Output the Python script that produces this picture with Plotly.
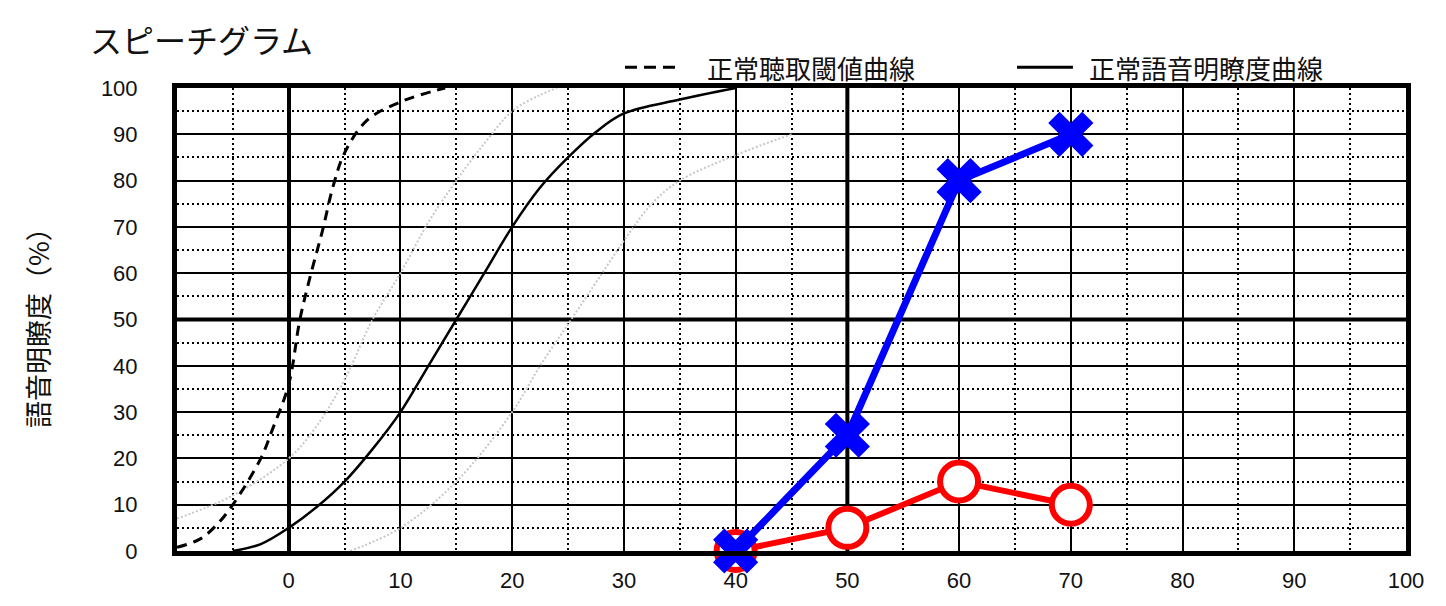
import plotly.graph_objects as go

# normal hearing threshold curve (dashed)
thr_x = [-10, -8, -6.5, -5, -2.5, -1.5, 0, 1, 2, 3, 4, 5, 7, 10, 14]
thr_y = [0.8, 2.5, 5.5, 10, 20, 26, 36, 50, 60, 69, 79, 86, 93, 97, 100]

# normal speech discrimination curve (solid)
norm_x = [-5, -2.5, 0, 2.5, 5, 7.5, 10, 12.5, 15, 17.5, 20, 22.5, 25, 27.5, 30, 35, 40]
norm_y = [0, 1.5, 5, 9.5, 15, 22, 30, 40, 50, 60, 70, 78.5, 85, 90.5, 94.5, 97.5, 100]

# range around the normal curve (light grey dotted)
low_x = [-10, -5, 0, 2.5, 5, 7.5, 10, 12.5, 15, 17.5, 20, 22.5, 24]
low_y = [7, 12, 20, 27, 37, 50, 60, 71, 80, 88, 95, 98.5, 100]
high_x = [5.5, 10, 15, 20, 22.5, 25, 27.5, 30, 32.5, 35, 40, 45]
high_y = [0, 5, 15, 30, 40, 49, 58, 67, 75, 80, 85.5, 90]

# measured results
levels = [40, 50, 60, 70]
right_ear = [0, 5, 15, 10]
left_ear = [0, 25, 80, 90]

x_ticks = list(range(0, 101, 10))
y_ticks = list(range(0, 101, 10))

legend_labels = ["正常聴取閾値曲線", "正常語音明瞭度曲線"]

JP = "Noto Sans CJK JP"
NUM = "Liberation Sans, Arial"

fig = go.Figure()

for gx, gy in [(low_x, low_y), (high_x, high_y)]:
    fig.add_trace(go.Scatter(x=gx, y=gy, mode="lines", line_shape="spline",
                             line=dict(color="#c8c8c8", width=2, dash="2px,2px"),
                             showlegend=False, hoverinfo="skip"))

fig.add_trace(go.Scatter(x=thr_x, y=thr_y, mode="lines", line_shape="spline",
                         line=dict(color="black", width=3, dash="10px,7px"),
                         name=legend_labels[0], showlegend=False))
fig.add_trace(go.Scatter(x=norm_x, y=norm_y, mode="lines", line_shape="spline",
                         line=dict(color="black", width=2.5),
                         name=legend_labels[1], showlegend=False))

fig.add_trace(go.Scatter(x=levels, y=right_ear, mode="lines+markers",
                         line=dict(color="#ff0000", width=6),
                         marker=dict(symbol="circle", size=38, color="white",
                                     line=dict(width=6, color="#ff0000")),
                         cliponaxis=False, showlegend=False))
fig.add_trace(go.Scatter(x=levels, y=left_ear, mode="lines+markers",
                         line=dict(color="#0000ff", width=7),
                         marker=dict(symbol="x", size=40, color="#0000ff"),
                         cliponaxis=False, showlegend=False))

# thick reference lines
fig.add_shape(type="line", x0=50, x1=50, y0=0, y1=100, xref="x", yref="y",
              line=dict(color="black", width=4), layer="between")
fig.add_shape(type="line", x0=-10, x1=100, y0=50, y1=50, xref="x", yref="y",
              line=dict(color="black", width=4), layer="between")

# legend drawn above the plot
leg_y = 1.045
fig.add_shape(type="line", xref="paper", yref="paper", x0=0.3645, x1=0.4093,
              y0=leg_y, y1=leg_y, line=dict(color="black", width=3, dash="12px,7px"))
fig.add_shape(type="line", xref="paper", yref="paper", x0=0.6835, x1=0.7290,
              y0=leg_y, y1=leg_y, line=dict(color="black", width=3))
for lx, txt in [(0.4296, legend_labels[0]), (0.7404, legend_labels[1])]:
    fig.add_annotation(text=txt, xref="paper", yref="paper", x=lx, y=leg_y,
                       xanchor="left", yanchor="middle", showarrow=False,
                       font=dict(family=JP, size=26, color="#111"))

# y axis title
fig.add_annotation(text="語音明瞭度（%）", xref="paper", yref="paper",
                   x=-0.113, y=0.497, xanchor="center", yanchor="middle",
                   textangle=-90, showarrow=False,
                   font=dict(family=JP, size=27, color="#111"))

fig.update_xaxes(range=[-10, 100], tickvals=x_ticks, ticks="",
                 showgrid=True, gridcolor="black", gridwidth=2,
                 minor=dict(tickvals=list(range(-5, 100, 10)), showgrid=True,
                            gridcolor="black", gridwidth=2, griddash="2px,3px"),
                 zeroline=True, zerolinecolor="black", zerolinewidth=4,
                 showline=True, mirror=True, linecolor="black", linewidth=5,
                 ticklabelstandoff=6, automargin=False,
                 tickfont=dict(family=NUM, size=22, color="#111"))
fig.update_yaxes(range=[0, 100], tickvals=y_ticks, ticks="",
                 showgrid=True, gridcolor="black", gridwidth=2,
                 minor=dict(tickvals=list(range(5, 100, 10)), showgrid=True,
                            gridcolor="black", gridwidth=2, griddash="2px,3px"),
                 zeroline=False,
                 showline=True, mirror=True, linecolor="black", linewidth=5,
                 ticklabelstandoff=30, automargin=False,
                 tickfont=dict(family=NUM, size=22, color="#111"))

fig.update_layout(
    width=1438, height=598,
    margin=dict(l=169, r=40, t=80, b=55, autoexpand=False),
    plot_bgcolor="white", paper_bgcolor="white",
    showlegend=False,
    title=dict(text="スピーチグラム", xref="container", yref="container",
               x=0.057, xanchor="left", y=0.943, yanchor="middle",
               font=dict(family=JP, size=32, color="#111")),
)

fig.write_html("out.html")
